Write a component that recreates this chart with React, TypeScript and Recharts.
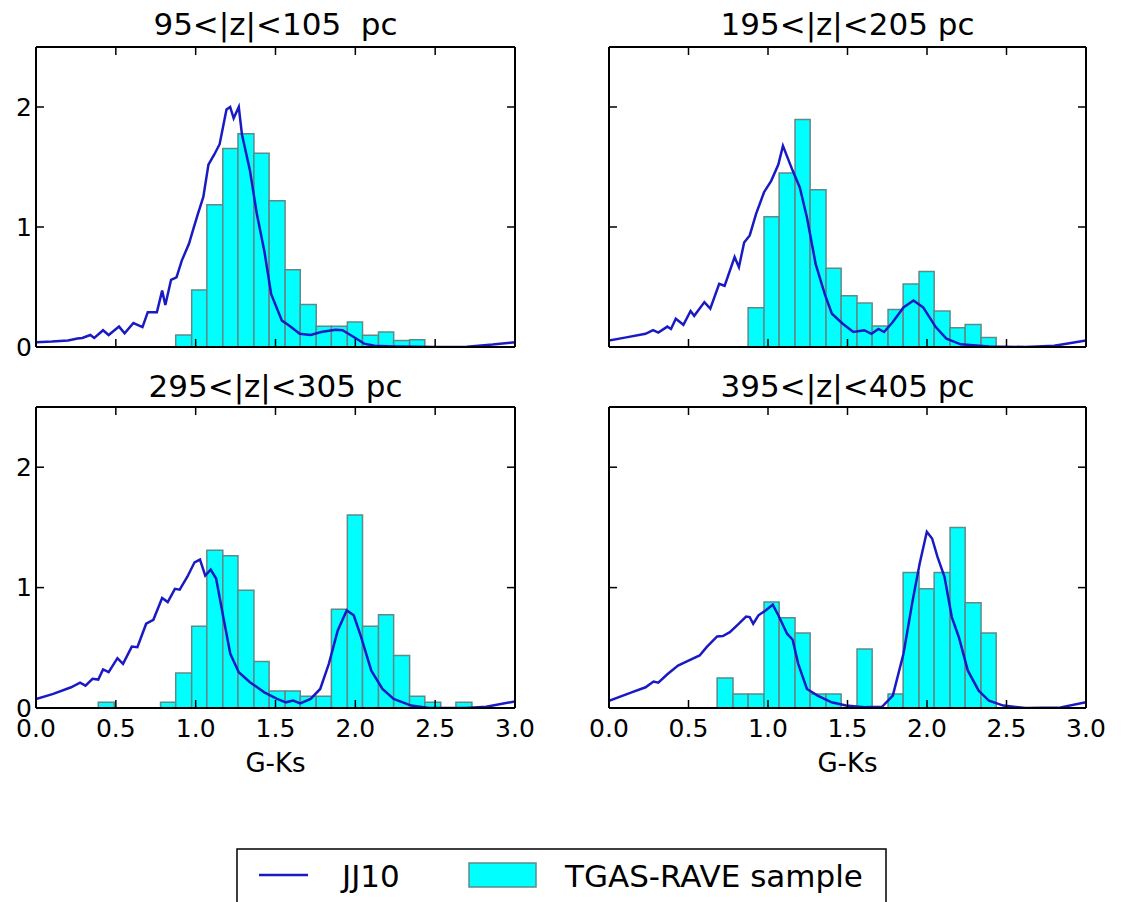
import React from 'react';
import { ComposedChart, Line, XAxis, YAxis, ReferenceArea } from 'recharts';

// histogram bin edges (G-Ks), shared by all four panels
const binEdges = [
  0.39, 0.49, 0.585, 0.68, 0.78, 0.875, 0.975, 1.07, 1.17, 1.265, 1.365, 1.46,
  1.56, 1.655, 1.755, 1.85, 1.95, 2.045, 2.145, 2.24, 2.34, 2.435, 2.535, 2.63, 2.73,
];

// TGAS-RAVE sample histogram heights, one per bin
const hist100 = [0, 0, 0, 0, 0, 0.1, 0.476, 1.186, 1.654, 1.778, 1.615, 1.219, 0.643, 0.355, 0.172, 0.172, 0.208, 0.097, 0.125, 0.055, 0.061, 0, 0, 0];
const hist200 = [0, 0, 0, 0, 0, 0.327, 1.086, 1.449, 1.895, 1.31, 0.657, 0.427, 0.366, 0.175, 0.313, 0.524, 0.629, 0.299, 0.161, 0.188, 0.08, 0, 0, 0];
const hist300 = [0.047, 0, 0, 0, 0.047, 0.29, 0.68, 1.31, 1.264, 0.978, 0.386, 0.142, 0.142, 0.097, 0.097, 0.82, 1.603, 0.678, 0.775, 0.436, 0.097, 0.047, 0, 0.047];
const hist400 = [0, 0, 0, 0.25, 0.117, 0.117, 0.88, 0.75, 0.622, 0.117, 0.117, 0, 0.49, 0, 0.117, 1.125, 0.99, 1.125, 1.5, 0.875, 0.622, 0, 0, 0];

// JJ10 model curves
const jj100X = [0, 0.1, 0.2, 0.26, 0.29, 0.34, 0.365, 0.42, 0.455, 0.52, 0.555, 0.61, 0.667, 0.7, 0.757, 0.79, 0.81, 0.846, 0.88, 0.913, 0.958, 0.98, 1.014, 1.048, 1.08, 1.115, 1.15, 1.193, 1.216, 1.238, 1.27, 1.29, 1.34, 1.383, 1.43, 1.473, 1.54, 1.585, 1.652, 1.72, 1.786, 1.876, 1.92, 1.99, 2.055, 2.12, 2.234, 2.5, 2.7, 2.86, 3.0];
const jj100Y = [0.04, 0.045, 0.055, 0.07, 0.075, 0.1, 0.075, 0.14, 0.1, 0.17, 0.115, 0.2, 0.166, 0.29, 0.29, 0.47, 0.35, 0.56, 0.58, 0.72, 0.86, 0.96, 1.11, 1.25, 1.52, 1.6, 1.69, 1.98, 2.0, 1.906, 2.0, 1.77, 1.47, 1.11, 0.8, 0.44, 0.22, 0.18, 0.11, 0.1, 0.125, 0.144, 0.14, 0.083, 0.028, 0.01, 0.005, 0, 0.002, 0.02, 0.04];

const jj200X = [0, 0.1, 0.23, 0.277, 0.31, 0.367, 0.39, 0.42, 0.468, 0.513, 0.536, 0.6, 0.637, 0.693, 0.727, 0.79, 0.817, 0.85, 0.885, 0.925, 0.975, 1.02, 1.065, 1.094, 1.155, 1.2, 1.245, 1.3, 1.357, 1.402, 1.47, 1.537, 1.605, 1.65, 1.695, 1.73, 1.785, 1.852, 1.915, 1.976, 2.055, 2.122, 2.212, 2.39, 2.62, 2.8, 3.0];
const jj200Y = [0.055, 0.078, 0.11, 0.14, 0.12, 0.17, 0.15, 0.235, 0.185, 0.3, 0.26, 0.374, 0.32, 0.526, 0.51, 0.75, 0.665, 0.87, 0.93, 1.11, 1.29, 1.385, 1.52, 1.676, 1.47, 1.33, 1.08, 0.69, 0.44, 0.277, 0.194, 0.125, 0.14, 0.11, 0.15, 0.125, 0.208, 0.33, 0.388, 0.33, 0.166, 0.07, 0.022, 0.005, 0, 0.01, 0.055];

const jj300X = [0, 0.108, 0.22, 0.276, 0.31, 0.354, 0.39, 0.42, 0.455, 0.51, 0.545, 0.6, 0.635, 0.69, 0.735, 0.79, 0.825, 0.87, 0.9, 0.948, 0.993, 1.027, 1.06, 1.094, 1.128, 1.173, 1.217, 1.27, 1.34, 1.43, 1.51, 1.565, 1.61, 1.655, 1.72, 1.78, 1.834, 1.89, 1.946, 1.99, 2.036, 2.1, 2.17, 2.24, 2.35, 2.46, 2.69, 2.82, 3.0];
const jj300Y = [0.075, 0.117, 0.172, 0.21, 0.186, 0.242, 0.236, 0.32, 0.297, 0.414, 0.367, 0.51, 0.505, 0.7, 0.733, 0.914, 0.88, 0.99, 0.983, 1.09, 1.21, 1.233, 1.1, 1.15, 1.075, 0.755, 0.45, 0.297, 0.214, 0.13, 0.075, 0.047, 0.061, 0.039, 0.075, 0.158, 0.367, 0.644, 0.81, 0.77, 0.59, 0.31, 0.158, 0.075, 0.02, 0, 0, 0.01, 0.055];

const jj400X = [0, 0.142, 0.23, 0.28, 0.31, 0.367, 0.434, 0.5, 0.57, 0.614, 0.68, 0.716, 0.76, 0.817, 0.862, 0.885, 0.907, 0.94, 0.985, 1.03, 1.065, 1.12, 1.155, 1.19, 1.245, 1.312, 1.4, 1.49, 1.605, 1.717, 1.785, 1.852, 1.91, 1.954, 1.999, 2.032, 2.066, 2.11, 2.156, 2.2, 2.257, 2.325, 2.39, 2.48, 2.62, 2.84, 3.0];
const jj400Y = [0.06, 0.13, 0.172, 0.22, 0.21, 0.28, 0.353, 0.394, 0.436, 0.505, 0.594, 0.597, 0.63, 0.7, 0.76, 0.755, 0.7, 0.77, 0.81, 0.858, 0.77, 0.617, 0.567, 0.367, 0.158, 0.103, 0.047, 0.02, 0.006, 0.01, 0.103, 0.45, 0.894, 1.2, 1.464, 1.408, 1.255, 1.089, 0.755, 0.59, 0.31, 0.144, 0.06, 0.02, 0, 0.005, 0.047];

const panelTitles = ['95<|z|<105  pc', '195<|z|<205 pc', '295<|z|<305 pc', '395<|z|<405 pc'];
const xTicks = [0, 0.5, 1, 1.5, 2, 2.5, 3];
const yTicks = [0, 1, 2];

const LINE_COLOR = '#1a1ac4';
const BAR_FILL = '#00ffff';
const BAR_EDGE = '#5f8a8a';
const FONT = '"DejaVu Sans", sans-serif';

type Box = { x0: number; y0: number; x1: number; y1: number };

const boxes: Box[] = [
  { x0: 36, y0: 47, x1: 515, y1: 347 },
  { x0: 609, y0: 47, x1: 1086, y1: 347 },
  { x0: 36, y0: 407, x1: 515, y1: 708 },
  { x0: 609, y0: 407, x1: 1086, y1: 708 },
];

const blank = () => '';
const frame = { stroke: '#000', strokeWidth: 2 };
const tickLine = { stroke: '#000', strokeWidth: 1.5 };

interface PanelProps {
  box: Box;
  hist: number[];
  lineX: number[];
  lineY: number[];
  showX: boolean;
  showY: boolean;
}

const Panel: React.FC<PanelProps> = ({ box, hist, lineX, lineY, showX, showY }) => {
  const data = lineX.map((x, i) => ({ x, y: lineY[i] }));
  const w = box.x1 - box.x0 + 80;
  const h = box.y1 - box.y0 + 55;
  return (
    <div style={{ position: 'absolute', left: box.x0 - 40, top: box.y0 - 10, width: w, height: h }}>
      <ComposedChart width={w} height={h} data={data} margin={{ top: 0, right: 30, bottom: 0, left: 10 }}>
        <XAxis
          xAxisId="b"
          dataKey="x"
          type="number"
          domain={[0, 3]}
          allowDataOverflow
          ticks={xTicks}
          interval={0}
          height={45}
          tickSize={-8}
          tickMargin={19}
          tickFormatter={showX ? (v: number) => v.toFixed(1) : blank}
          tick={{ fontSize: 25, fill: '#000', fontFamily: FONT }}
          axisLine={frame}
          tickLine={tickLine}
        />
        <XAxis
          xAxisId="t"
          dataKey="x"
          orientation="top"
          type="number"
          domain={[0, 3]}
          allowDataOverflow
          ticks={xTicks}
          interval={0}
          height={10}
          tickSize={-8}
          tickFormatter={blank}
          axisLine={frame}
          tickLine={tickLine}
        />
        <YAxis
          yAxisId="l"
          type="number"
          domain={[0, 2.5]}
          allowDataOverflow
          ticks={yTicks}
          interval={0}
          width={30}
          tickSize={-8}
          tickMargin={12}
          tickFormatter={showY ? (v: number) => String(v) : blank}
          tick={{ fontSize: 25, fill: '#000', fontFamily: FONT }}
          axisLine={frame}
          tickLine={tickLine}
        />
        <YAxis
          yAxisId="r"
          dataKey="y"
          orientation="right"
          type="number"
          domain={[0, 2.5]}
          allowDataOverflow
          ticks={yTicks}
          interval={0}
          width={10}
          tickSize={-8}
          tickFormatter={blank}
          axisLine={frame}
          tickLine={tickLine}
        />
        {hist.map((v, k) =>
          v > 0 ? (
            <ReferenceArea
              key={k}
              xAxisId="b"
              yAxisId="l"
              x1={binEdges[k]}
              x2={binEdges[k + 1]}
              y1={0}
              y2={v}
              fill={BAR_FILL}
              fillOpacity={1}
              stroke={BAR_EDGE}
              strokeWidth={1.5}
              strokeOpacity={1}
            />
          ) : null
        )}
        <Line
          xAxisId="b"
          yAxisId="l"
          dataKey="y"
          type="linear"
          stroke={LINE_COLOR}
          strokeWidth={2.5}
          dot={false}
          activeDot={false}
          isAnimationActive={false}
        />
      </ComposedChart>
    </div>
  );
};

export default function App() {
  const hists = [hist100, hist200, hist300, hist400];
  const linesX = [jj100X, jj200X, jj300X, jj400X];
  const linesY = [jj100Y, jj200Y, jj300Y, jj400Y];
  return (
    <div
      style={{
        position: 'absolute',
        left: 0,
        top: 0,
        width: 1122,
        height: 902,
        overflow: 'hidden',
        background: '#fff',
        fontFamily: FONT,
      }}
    >
      {boxes.map((b, i) => (
        <Panel
          key={i}
          box={b}
          hist={hists[i]}
          lineX={linesX[i]}
          lineY={linesY[i]}
          showX={i >= 2}
          showY={i % 2 === 0}
        />
      ))}
      <svg width={1122} height={902} style={{ position: 'absolute', left: 0, top: 0, pointerEvents: 'none' }}>
        {boxes.map((b, i) => (
          <text
            key={i}
            x={(b.x0 + b.x1) / 2}
            y={i < 2 ? 35 : 397}
            textAnchor="middle"
            fontSize={31}
            fontFamily={FONT}
            fill="#000"
            style={{ whiteSpace: 'pre' }}
          >
            {panelTitles[i]}
          </text>
        ))}
        {boxes.slice(2).map((b, i) => (
          <text key={i} x={(b.x0 + b.x1) / 2} y={772} textAnchor="middle" fontSize={26} fontFamily={FONT} fill="#000">
            G-Ks
          </text>
        ))}
        {/* figure legend */}
        <rect x={237} y={849} width={649} height={70} fill="#fff" stroke="#000" strokeWidth={1.5} />
        <line x1={259} y1={875} x2={308} y2={875} stroke={LINE_COLOR} strokeWidth={2.5} />
        <text x={342} y={887} fontSize={31} fontFamily={FONT} fill="#000">JJ10</text>
        <rect x={469} y={863} width={67} height={24} fill={BAR_FILL} stroke={BAR_EDGE} strokeWidth={1.5} />
        <text x={565} y={887} fontSize={31} fontFamily={FONT} fill="#000">TGAS-RAVE sample</text>
      </svg>
    </div>
  );
}
